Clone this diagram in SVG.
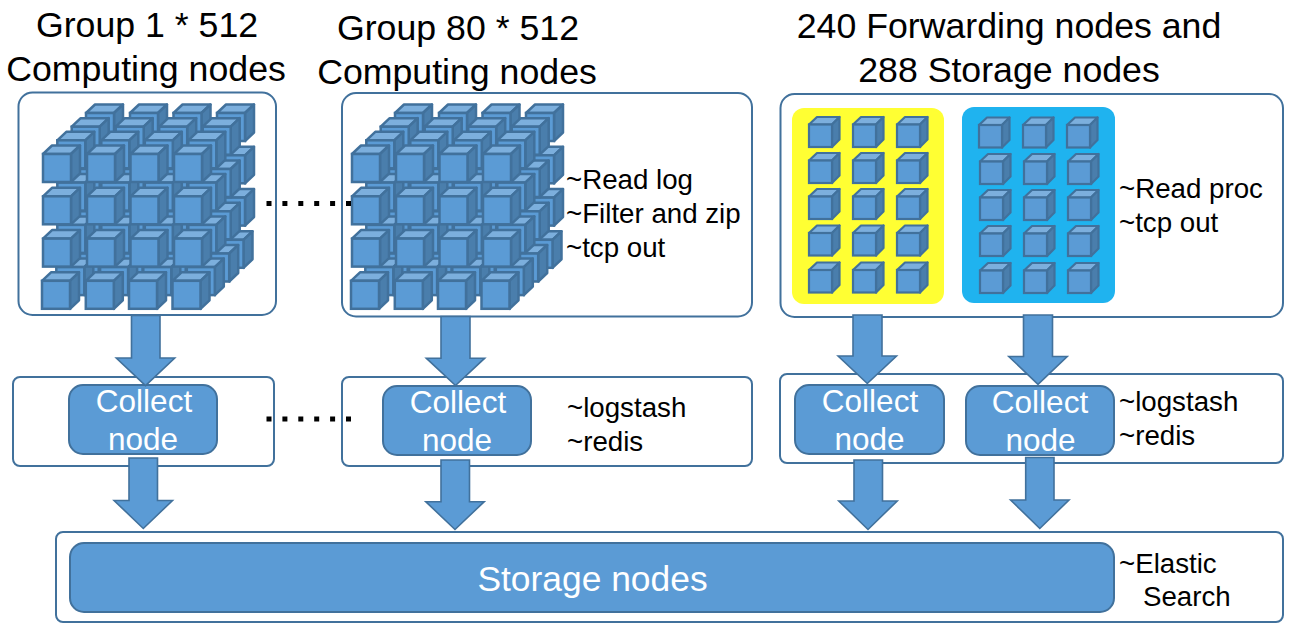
<svg xmlns="http://www.w3.org/2000/svg" width="1294" height="630" viewBox="0 0 1294 630">
<style>
text{font-family:"Liberation Sans",Arial,sans-serif;fill:#000}
.title{font-size:35.7px;text-anchor:middle}
.lab{font-size:27.7px}
.wh{fill:#fff;text-anchor:middle;font-size:31.5px}
.box{fill:#fff;stroke:#41719c;stroke-width:2}
.node{fill:#5b9bd5;stroke:#41719c;stroke-width:2}
.arrow{fill:#5b9bd5;stroke:#41719c;stroke-width:1.6;stroke-linejoin:miter}
.dots{fill:none;stroke:#000;stroke-width:5;stroke-dasharray:5 10.9}
.f{fill:#5b9bd5;stroke:#41719c;stroke-width:2.500}
.t{fill:#7cafdd;stroke:#41719c;stroke-width:2.500;stroke-linejoin:round}
.s{fill:#4a7eac;stroke:#41719c;stroke-width:2.500;stroke-linejoin:round}
.t2{fill:#7cafdd;stroke:#41719c;stroke-width:2.200;stroke-linejoin:round}
.s2{fill:#4a7eac;stroke:#41719c;stroke-width:2.200;stroke-linejoin:round}
.f2{fill:#5b9bd5;stroke:#41719c;stroke-width:2.200}
</style>
<defs>
<g id="cb">
<path class="t" d="M0 0l9-8.500h28l-9 8.500z"/>
<path class="s" d="M28 0l9-8.500v28l-9 8.500z"/>
<rect class="f" x="0" y="0" width="28" height="28"/>
</g>
<g id="cs">
<path class="t2" d="M0 0l8-7.500h22.500l-7.500 7.500z"/>
<path class="s2" d="M23 0l7.500-7.500v22.500l-7.500 7.500z"/>
<rect class="f2" x="0" y="0" width="23" height="22.500"/>
</g>
<g id="layer">
<use href="#cb" x="0" y="0"/><use href="#cb" x="44" y="0"/><use href="#cb" x="87.500" y="0"/><use href="#cb" x="131" y="0"/>
<use href="#cb" x="0" y="42.300"/><use href="#cb" x="44" y="42.300"/><use href="#cb" x="87.500" y="42.300"/><use href="#cb" x="131" y="42.300"/>
<use href="#cb" x="0" y="84.600"/><use href="#cb" x="44" y="84.600"/><use href="#cb" x="87.500" y="84.600"/><use href="#cb" x="131" y="84.600"/>
<use href="#cb" x="-1" y="126.800"/><use href="#cb" x="42.800" y="126.800"/><use href="#cb" x="86" y="126.800"/><use href="#cb" x="129.500" y="126.800"/>
</g>
<g id="stack">
<use href="#layer" x="43" y="-41"/>
<use href="#layer" x="28.700" y="-27.300"/>
<use href="#layer" x="14.300" y="-13.700"/>
<use href="#layer" x="0" y="0"/>
</g>
</defs>

<g id="title-labels">
<text class="title" x="147" y="37">Group 1 * 512</text>
<text class="title" x="146" y="81">Computing nodes</text>
<text class="title" x="458" y="40">Group 80 * 512</text>
<text class="title" x="457" y="84">Computing nodes</text>
<text class="title" x="1009" y="38">240 Forwarding nodes and</text>
<text class="title" x="1009" y="82">288 Storage nodes</text>
</g>

<g id="group-1">
<rect class="box" x="18.500" y="92.500" width="257.500" height="222.500" rx="14"/>
<use href="#stack" x="43" y="154"/>
</g>
<g id="group-80">
<rect class="box" x="342" y="93" width="410" height="223.500" rx="14"/>
<use href="#stack" x="352" y="154"/>
<text class="lab" x="566" y="189">~Read log</text>
<text class="lab" x="566" y="223">~Filter and zip</text>
<text class="lab" x="566" y="257">~tcp out</text>
</g>
<g id="group-io">
<rect class="box" x="780.500" y="94" width="502.500" height="223" rx="14"/>
<text class="lab" x="1119" y="198">~Read proc</text>
<text class="lab" x="1119" y="232">~tcp out</text>
</g>
<g id="forwarding">
<rect x="792" y="108" width="152" height="196" rx="12" fill="#ffff33"/>
<use href="#cs" x="809" y="124.500"/><use href="#cs" x="853" y="124.500"/><use href="#cs" x="897" y="124.500"/>
<use href="#cs" x="809" y="160.500"/><use href="#cs" x="853" y="160.500"/><use href="#cs" x="897" y="160.500"/>
<use href="#cs" x="809" y="196.500"/><use href="#cs" x="853" y="196.500"/><use href="#cs" x="897" y="196.500"/>
<use href="#cs" x="809" y="233"/><use href="#cs" x="853" y="233"/><use href="#cs" x="897" y="233"/>
<use href="#cs" x="809" y="270"/><use href="#cs" x="853" y="270"/><use href="#cs" x="897" y="270"/>
</g>
<g id="storage-io">
<rect x="962" y="107" width="153" height="196" rx="12" fill="#1fb3ef"/>
<use href="#cs" x="979" y="125"/><use href="#cs" x="1023" y="125"/><use href="#cs" x="1067" y="125"/>
<use href="#cs" x="980" y="161.500"/><use href="#cs" x="1024" y="161.500"/><use href="#cs" x="1068" y="161.500"/>
<use href="#cs" x="980" y="197.500"/><use href="#cs" x="1024" y="197.500"/><use href="#cs" x="1068" y="197.500"/>
<use href="#cs" x="980" y="233.500"/><use href="#cs" x="1024" y="233.500"/><use href="#cs" x="1068" y="233.500"/>
<use href="#cs" x="980" y="270.500"/><use href="#cs" x="1024" y="270.500"/><use href="#cs" x="1068" y="270.500"/>
</g>

<g id="collect-row-1">
<rect class="box" x="13" y="377" width="261" height="89" rx="7"/>
<rect class="node" x="69" y="385" width="148" height="69" rx="14"/>
<text class="wh" x="144" y="412">Collect</text>
<text class="wh" x="143" y="450">node</text>
</g>
<g id="collect-row-80">
<rect class="box" x="342" y="377" width="410" height="89" rx="7"/>
<rect class="node" x="383" y="386" width="148" height="69" rx="14"/>
<text class="wh" x="458" y="413">Collect</text>
<text class="wh" x="457" y="451">node</text>
<text class="lab" x="567" y="417">~logstash</text>
<text class="lab" x="567" y="451">~redis</text>
</g>
<g id="collect-row-io">
<rect class="box" x="780" y="374" width="503" height="89" rx="7"/>
<rect class="node" x="795" y="385" width="149" height="69" rx="14"/>
<text class="wh" x="870" y="412">Collect</text>
<text class="wh" x="869.500" y="450">node</text>
<rect class="node" x="966" y="386" width="148" height="69" rx="14"/>
<text class="wh" x="1040" y="413">Collect</text>
<text class="wh" x="1040.500" y="451">node</text>
<text class="lab" x="1119" y="411">~logstash</text>
<text class="lab" x="1119" y="445">~redis</text>
</g>
<g id="storage">
<rect class="box" x="56" y="532" width="1227" height="90" rx="7"/>
<rect class="node" x="70" y="543" width="1044" height="69" rx="14"/>
<text class="wh" style="font-size:35.400px" x="592.500" y="591">Storage nodes</text>
<text class="lab" x="1119" y="573">~Elastic</text>
<text class="lab" x="1143" y="606">Search</text>
</g>

<g id="connectors">
<path class="dots" d="M266.500 203.500H352"/>
<path class="dots" d="M266.500 419H352"/>
<path class="arrow" d="M131.500 315.500h28.500v42.500h14.700l-29.200 27.700l-29.200-27.700h15.200z"/>
<path class="arrow" d="M129 458h28.500v42.500h15l-29.200 28l-29.200-28h14.900z"/>
<path class="arrow" d="M441 316.500h29v41.700h14.700l-29.200 27.300l-29.200-27.300h14.700z"/>
<path class="arrow" d="M441 460h28.500v41.700h14.700l-29.200 27.800l-29.200-27.800h15.200z"/>
<path class="arrow" d="M853 315h29v41h14.500l-29.200 27.500l-29.200-27.500h14.900z"/>
<path class="arrow" d="M1023.500 315h29v41.500h14.700l-29.200 27.800l-29.200-27.800h14.700z"/>
<path class="arrow" d="M854 460h28.500v41h14.700l-29.200 28.500l-29.200-28.500h15.200z"/>
<path class="arrow" d="M1025.700 457.500h28.300v42.500h15l-29.200 28.500l-29.200-28.500h15.100z"/>
</g>
</svg>
